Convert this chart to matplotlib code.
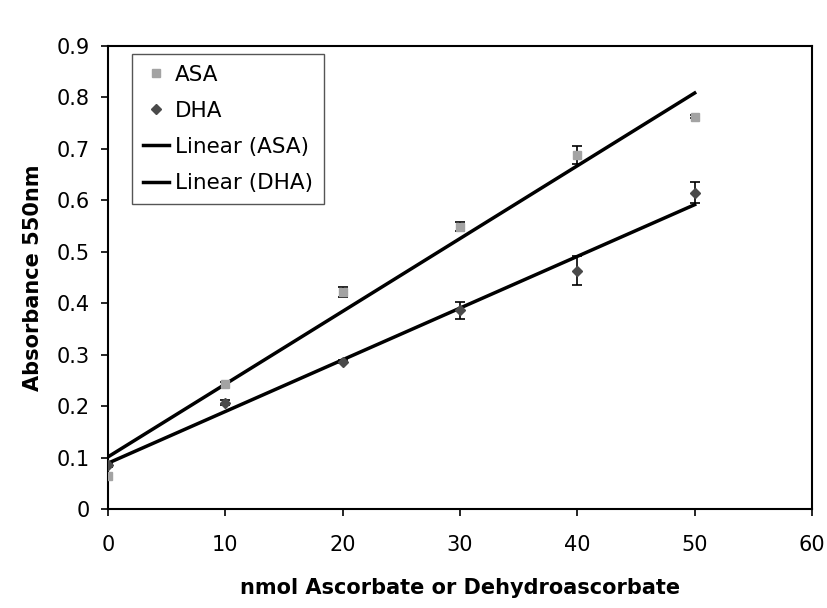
import numpy as np
import matplotlib.pyplot as plt
from matplotlib.lines import Line2D

# data
nmol = [0, 10, 20, 30, 40, 50]
asa = [0.065, 0.243, 0.422, 0.549, 0.688, 0.763]
asa_err = [0.004, 0.004, 0.010, 0.008, 0.017, 0.003]
dha = [0.085, 0.207, 0.286, 0.386, 0.463, 0.615]
dha_err = [0.003, 0.005, 0.003, 0.017, 0.028, 0.020]

asa_col = '#a3a3a3'
dha_col = '#4a4a4a'

fig = plt.figure(figsize=(8.28, 6.08), dpi=100)
ax = fig.add_axes([0.1304, 0.1628, 0.8503, 0.7615])

# data points with error bars
ax.errorbar(nmol, asa, yerr=asa_err, fmt='s', color=asa_col, ms=6,
            ecolor='black', elinewidth=1.2, capsize=3.5, capthick=1.2, zorder=3)
ax.errorbar(nmol, dha, yerr=dha_err, fmt='D', color=dha_col, ms=5,
            ecolor='black', elinewidth=1.2, capsize=3.5, capthick=1.2, zorder=3)

# linear trendlines
xs = np.array([nmol[0], nmol[-1]])
p_asa = np.polyfit(nmol, asa, 1)
p_dha = np.polyfit(nmol, dha, 1)
ax.plot(xs, np.polyval(p_asa, xs), color='black', lw=2.5, zorder=2)
ax.plot(xs, np.polyval(p_dha, xs), color='black', lw=2.5, zorder=2)

ax.set_xlim(0, 60)
ax.set_ylim(0, 0.9)
ax.set_xticks(range(0, 61, 10))
ax.set_yticks(np.arange(0, 0.91, 0.1))
ax.set_yticklabels(['0'] + ['%.1f' % v for v in np.arange(0.1, 0.91, 0.1)])
ax.tick_params(labelsize=15, length=5, width=1.2, direction='out')
ax.tick_params(axis='x', pad=14)
ax.tick_params(axis='y', pad=8)
for s in ax.spines.values():
    s.set_linewidth(1.5)

ax.set_xlabel('nmol Ascorbate or Dehydroascorbate', fontsize=15, fontweight='bold', labelpad=16)
ax.set_ylabel('Absorbance 550nm', fontsize=15, fontweight='bold', labelpad=10)

handles = [
    Line2D([], [], ls='none', marker='s', color=asa_col, ms=6),
    Line2D([], [], ls='none', marker='D', color=dha_col, ms=5),
    Line2D([], [], color='black', lw=2.5),
    Line2D([], [], color='black', lw=2.5),
]
labels = ['ASA', 'DHA', 'Linear (ASA)', 'Linear (DHA)']
leg = ax.legend(handles, labels, loc='upper left', bbox_to_anchor=(0.034, 0.983), fontsize=15.5,
                fancybox=False, framealpha=1, edgecolor='#555555', handlelength=1.2,
                handletextpad=0.3, borderpad=0.5, labelspacing=0.75, borderaxespad=0)
leg.get_frame().set_linewidth(1.0)

fig.savefig('out.png', dpi=100)
